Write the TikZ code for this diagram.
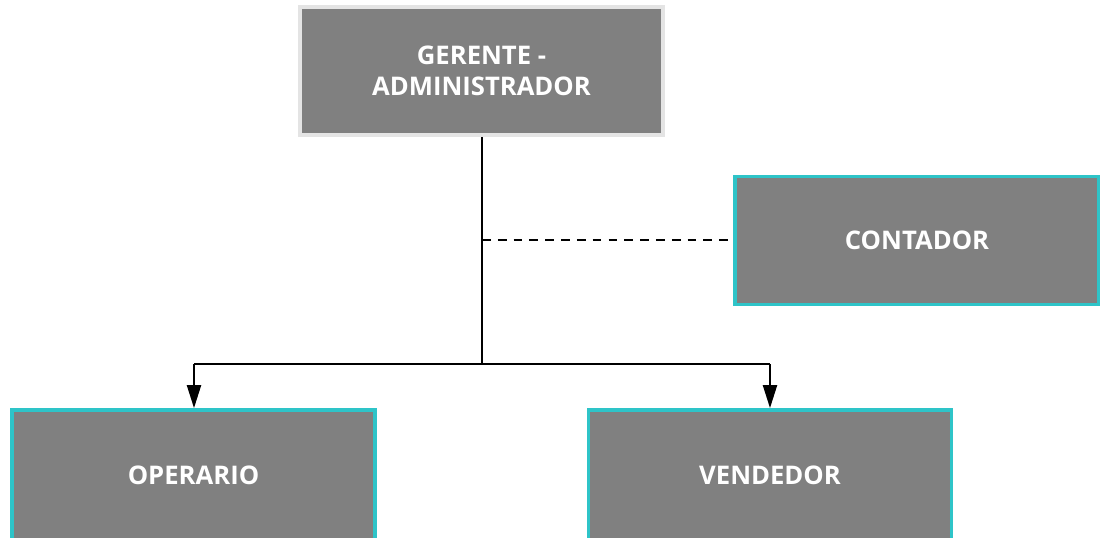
\documentclass[tikz,border=0pt]{standalone}
\usepackage{fontspec}
\setmainfont{Open Sans}
\usetikzlibrary{arrows.meta}
\definecolor{boxgray}{HTML}{808080}
\definecolor{boxcyan}{HTML}{2EC4C8}
\definecolor{boxedge}{HTML}{E4E4E4}
\tikzset{
  cargo/.style={rectangle, fill=boxgray, draw=boxcyan, line width=2.2pt, minimum width=363*0.02cm, minimum height=128*0.02cm, inner sep=0pt, align=center, text=white, font=\fontsize{14.6}{17.5}\selectfont\bfseries},
}
\begin{document}
\begin{tikzpicture}[x=0.02cm,y=-0.02cm,>={Triangle[length=13pt,width=8pt]}]
\useasboundingbox (0,0) rectangle (1100,538);
\clip (0,0) rectangle (1100,538);
\node[cargo, draw=boxedge] (ger) at (481.5,71) {GERENTE -\\ADMINISTRADOR};
\node[cargo, minimum width=364*0.02cm] (con) at (917,240.5) {CONTADOR};
\node[cargo, minimum height=130*0.02cm] (ope) at (193.5,475) {OPERARIO};
\node[cargo, minimum height=130*0.02cm] (ven) at (770,475) {VENDEDOR};
\coordinate (d) at (482,240);
\coordinate (j) at (482,364);
\coordinate (jl) at (194,364);
\coordinate (jr) at (770,364);
\draw[line width=1.5pt] (ger.south -| j) -- (j);
\draw[dashed, line width=0.8pt, dash pattern=on 5pt off 4pt] (d) -- (con.west |- d);
\draw[line width=1pt] (jl) -- (jr);
\draw[->, line width=1pt] (jl) -- (ope.north -| jl);
\draw[->, line width=1pt] (jr) -- (ven.north);
\end{tikzpicture}
\end{document}
